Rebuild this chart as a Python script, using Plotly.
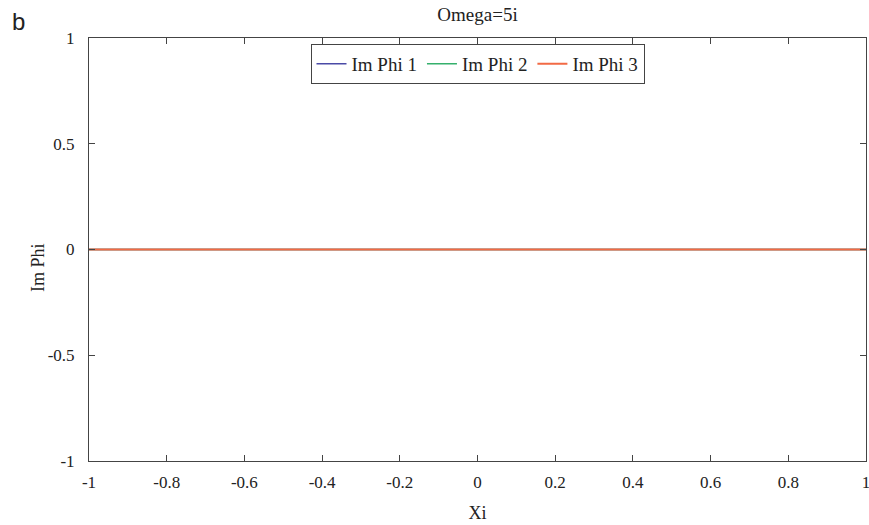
import plotly.graph_objects as go

# Data
xi = [-1.0, -0.5, 0.0, 0.5, 1.0]
im_phi_1 = [0.0, 0.0, 0.0, 0.0, 0.0]
im_phi_2 = [0.0, 0.0, 0.0, 0.0, 0.0]
im_phi_3 = [0.0, 0.0, 0.0, 0.0, 0.0]
series_names = ["Im Phi 1", "Im Phi 2", "Im Phi 3"]
x_ticks = [-1, -0.8, -0.6, -0.4, -0.2, 0, 0.2, 0.4, 0.6, 0.8, 1]
y_ticks = [-1, -0.5, 0, 0.5, 1]

colors = ["#4a4aa6", "#35b06c", "#f26a45"]
widths = [1.5, 1.5, 2]
serif = "Liberation Serif"

fig = go.Figure()
for name, ys, c, w in zip(series_names, [im_phi_1, im_phi_2, im_phi_3], colors, widths):
    fig.add_trace(go.Scatter(x=xi, y=ys, mode="lines", name=name,
                             line=dict(color=c, width=w)))

W, H = 869, 525
pl, pr, pt, pb = 89, 3, 38, 64
pw, ph = W - pl - pr, H - pt - pb

axis_common = dict(showline=True, linecolor="#444", linewidth=1, mirror="ticks",
                   ticks="inside", ticklen=6, tickcolor="#444", tickwidth=1,
                   showgrid=False, zeroline=False, ticklabeloverflow="allow",
                   tickfont=dict(family=serif, size=17, color="#222"))

fig.update_layout(
    width=W, height=H,
    margin=dict(l=pl, r=pr, t=pt, b=pb, autoexpand=False),
    paper_bgcolor="white", plot_bgcolor="white",
    font=dict(family=serif, size=17, color="#222"),
    title=dict(text="Omega=5i", x=(pl + pw / 2) / W, xanchor="center", y=1 - 14 / H, yanchor="middle",
               yref="container", font=dict(family=serif, size=19, color="#222")),
    xaxis=dict(range=[-1, 1], tickvals=x_ticks,
               ticktext=[("%g" % v) for v in x_ticks],
               title=dict(text="Xi", standoff=14, font=dict(family=serif, size=18)),
               ticklabelstandoff=6, automargin=False, **axis_common),
    yaxis=dict(range=[-1, 1], tickvals=y_ticks,
               ticktext=[("%g" % v) for v in y_ticks],
               ticklabelstandoff=10, automargin=False, **axis_common),
    legend=dict(orientation="h", x=0.5, xanchor="center", y=0.986, yanchor="top",
                bgcolor="white", bordercolor="#444", borderwidth=1,
                font=dict(family=serif, size=19, color="#222"),
                itemwidth=30, tracegroupgap=0),
    showlegend=True,
    annotations=[
        dict(text="b", x=(18 - pl) / pw, y=(H - pb - 22) / ph,
             xref="paper", yref="paper",
             xanchor="center", yanchor="middle", showarrow=False,
             font=dict(family="Liberation Sans", size=24, color="#222")),
        dict(text="Im Phi", x=(38 - pl) / pw, y=(H - pb - 268) / ph,
             xref="paper", yref="paper", textangle=-90,
             xanchor="center", yanchor="middle", showarrow=False,
             font=dict(family=serif, size=18, color="#222")),
    ],
)

fig.write_html("out.html")
